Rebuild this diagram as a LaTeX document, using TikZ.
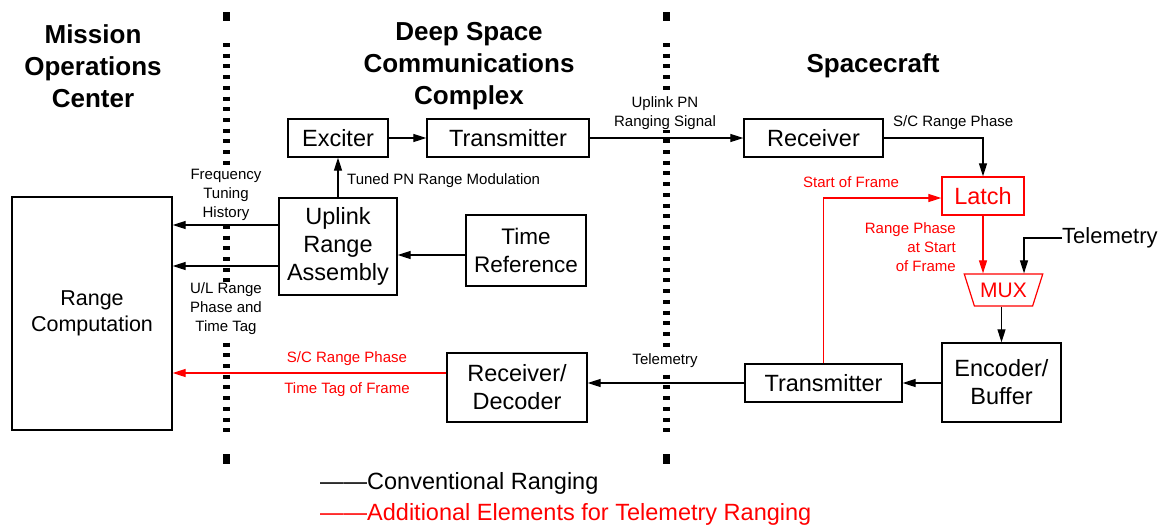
\documentclass[tikz,border=0pt]{standalone}
\usepackage{fontspec}
\setmainfont{Liberation Sans}
\usetikzlibrary{arrows.meta,shapes.geometric}
\definecolor{addred}{HTML}{FF0000}
\newcommand{\boxfont}{\fontsize{23.5}{28}\selectfont}
\newcommand{\tagfont}{\fontsize{15}{19}\selectfont}
\newcommand{\headfont}{\fontsize{26}{32}\selectfont\bfseries}

\begin{document}
\begin{tikzpicture}[x=1pt,y=-1pt,
  block/.style={draw,line width=1.3pt,inner sep=0pt,align=center,font=\boxfont},
  redblock/.style={block,draw=addred,text=addred},
  conn/.style={line width=1.2pt,-{Triangle[length=13pt,width=8pt]}},
  redconn/.style={conn,draw=addred},
  tag/.style={align=center,font=\tagfont,inner sep=1pt},
  divider/.style={line width=7pt,dash pattern=on 4pt off 6.7pt}]
  \useasboundingbox (0,0) rectangle (1163,525);
  \foreach \dx in {226,666} {
    \fill (\dx-3.5,12) rectangle (\dx+3.5,21);
    \draw[divider] (\dx,43) -- (\dx,437);
    \fill (\dx-3.5,454) rectangle (\dx+3.5,464);
  }
  \node[align=center,font=\headfont] (moc) at (93,66) {Mission\\Operations\\Center};
  \node[align=center,font=\headfont] (dscc) at (469,66) {Deep Space\\Communications\\Complex};
  \node[align=center,font=\headfont] (sc) at (873,66) {Spacecraft};

  \node[block,minimum width=160,minimum height=233,font=\fontsize{21.5}{26}\selectfont] (rc) at (92,313.5) {Range\\Computation};
  \node[block,minimum width=100,minimum height=38] (exc) at (338,138) {Exciter};
  \node[block,minimum width=162,minimum height=38] (tx1) at (508,138) {Transmitter};
  \node[block,minimum width=139,minimum height=38] (rx) at (813.5,138) {Receiver};
  \node[block,minimum width=118,minimum height=97] (ura) at (338,246.5) {Uplink\\Range\\Assembly};
  \node[block,minimum width=120,minimum height=71,font=\fontsize{22.5}{28}\selectfont] (tref) at (526,250.5) {Time\\Reference};
  \node[redblock,minimum width=82,minimum height=38] (latch) at (983,196) {Latch};
  \node[trapezium,trapezium stretches=true,shape border rotate=180,
        trapezium left angle=61,trapezium right angle=61,
        minimum width=79,minimum height=32,inner sep=0pt,
        draw=addred,line width=1.2pt,text=addred,font=\fontsize{21}{24}\selectfont] (mux) at (1003.5,290) {MUX};
  \node[block,minimum width=119,minimum height=79] (enc) at (1001.5,382.5) {Encoder/\\Buffer};
  \node[block,minimum width=157,minimum height=38] (tx2) at (823.5,383) {Transmitter};
  \node[block,minimum width=140,minimum height=69] (rd) at (517,387.5) {Receiver/\\Decoder};
  \node[anchor=west,inner sep=0pt,font=\fontsize{22}{26}\selectfont] (telem) at (1062,238) {Telemetry};

  \draw[conn] (exc) -- (tx1);
  \draw[conn] (tx1) -- (rx);
  \draw[conn] (rx.east) -| (latch.north);
  \draw[conn] (ura.north -| exc.south) -- (exc.south);
  \draw[conn] ([yshift=-4.5]tref.west) -- ([yshift=-4.5]tref.west -| ura.east);
  \draw[conn] ([yshift=21.5]ura.west) -- ([yshift=21.5]ura.west -| rc.east);
  \draw[conn] ([yshift=-19.5]ura.west) -- ([yshift=-19.5]ura.west -| rc.east);
  \draw[redconn] (latch.south) -- (latch.south |- mux.north);
  \draw[conn] (telem.west) -| ([xshift=20.5]mux.north);
  \draw[conn] (mux.south -| enc.north) -- (enc.north);
  \draw[conn] (enc.west |- tx2.east) -- (tx2.east);
  \draw[redconn] (tx2.north) |- ([yshift=-2]latch.west);
  \draw[conn] (tx2.west) -- (tx2.west -| rd.east);
  \draw[redconn] ([yshift=14.5]rd.west) -- ([yshift=14.5]rd.west -| rc.east);

  \node[tag,fill=white] (freqtag) at (226,195) {Frequency\\Tuning\\History};
  \node[tag,fill=white] (ultag) at (226,309) {U/L Range\\Phase and\\Time Tag};
  \node[tag,fill=white] (pntag) at (665,113) {Uplink PN\\Ranging Signal};
  \node[tag,fill=white] (tmtag) at (665,361) {Telemetry};
  \node[tag,anchor=west] (modtag) at (346,181) {Tuned PN Range Modulation};
  \node[tag,anchor=west] (phtag) at (892,123) {S/C Range Phase};
  \node[tag,text=addred] (softag) at (851,182) {Start of Frame};
  \node[tag,text=addred,align=right,anchor=east] (rpstag) at (957,247) {Range Phase\\at Start\\of Frame};
  \node[tag,text=addred] (scrtag) at (347,359) {S/C Range Phase};
  \node[tag,text=addred] (ttftag) at (347,390) {Time Tag of Frame};

  \node[anchor=west,inner sep=0pt,font=\fontsize{23.5}{28}\selectfont] (legconv) at (320,483) {——Conventional Ranging};
  \node[anchor=west,inner sep=0pt,text=addred,font=\fontsize{23.5}{28}\selectfont] (legadd) at (320,514) {——Additional Elements for Telemetry Ranging};
\end{tikzpicture}
\end{document}
